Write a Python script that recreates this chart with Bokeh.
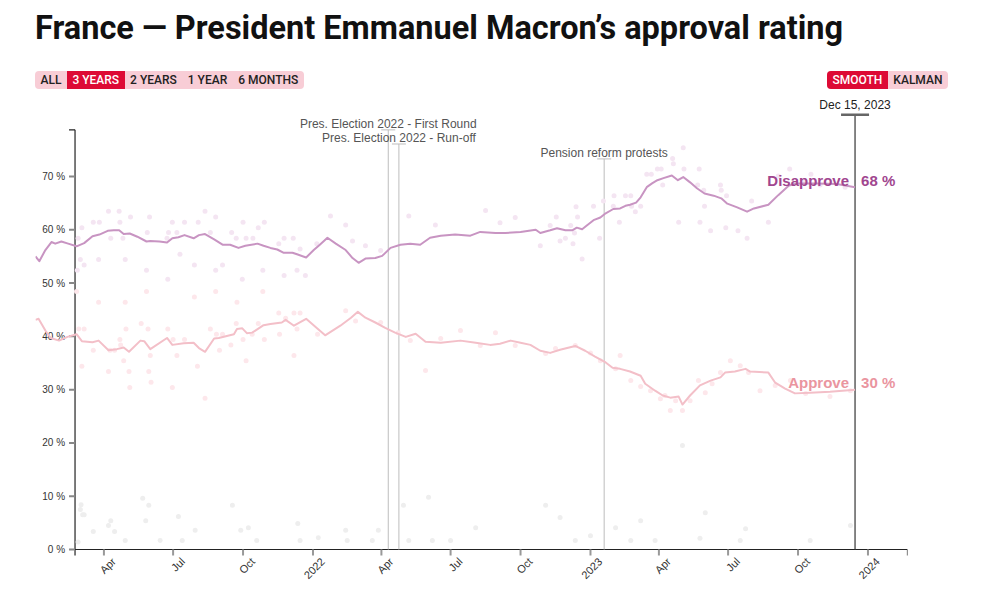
import math
import pandas as pd
from bokeh.plotting import figure
from bokeh.models import Range1d, FixedTicker, Div
from bokeh.layouts import column
from bokeh.embed import file_html
from bokeh.resources import INLINE
from bokeh.core.properties import value

# ------------------------------------------------------------------ data
TITLE = "France \u2014 President Emmanuel Macron\u2019s approval rating"
START = "2021-01-01"          # day 0 for the day offsets below

# smoothed series: (days since START, %)
disapprove_line = [
    (0, 55.0), (5, 54.1), (13, 56.2), (21, 57.7), (26, 57.4), (34, 57.8), (43, 57.4), (54, 56.9),
    (64, 57.5), (75, 58.8), (84, 59.1), (95, 59.8), (103, 59.9), (110, 59.9), (116, 59.2), (124, 59.3),
    (134, 58.7), (146, 57.8), (151, 57.9), (163, 57.8), (173, 57.6), (180, 58.4), (188, 58.6), (196, 59.0),
    (208, 58.4), (215, 59.0), (223, 59.2), (235, 58.2), (246, 57.2), (256, 57.2), (267, 56.6), (276, 57.0),
    (292, 57.4), (300, 57.0), (309, 56.6), (318, 56.3), (326, 55.7), (338, 55.7), (344, 55.4), (356, 54.8),
    (366, 56.2), (374, 57.2), (384, 58.5), (395, 57.4), (408, 56.2), (417, 54.7), (425, 53.8), (434, 54.6),
    (447, 54.7), (456, 55.1), (467, 56.6), (480, 57.2), (493, 57.4), (506, 57.2), (519, 58.5), (533, 58.9),
    (552, 59.1), (572, 58.9), (585, 59.6), (605, 59.4), (618, 59.4), (638, 59.6), (658, 60.0), (664, 59.4),
    (677, 59.9), (686, 60.3), (697, 59.9), (706, 59.9), (712, 60.4), (719, 60.1), (726, 60.9), (734, 61.8),
    (743, 62.3), (750, 63.1), (760, 63.9), (769, 64.0), (776, 64.5), (782, 64.7), (790, 65.1), (796, 66.1),
    (804, 68.0), (811, 68.7), (818, 69.3), (826, 69.7), (837, 70.2), (845, 69.3), (852, 69.9), (861, 68.9),
    (870, 67.8), (880, 66.8), (892, 66.4), (902, 65.9), (910, 64.9), (923, 64.2), (936, 63.4), (945, 64.0),
    (964, 64.7), (977, 66.5), (991, 68.3), (1002, 68.7), (1028, 68.7), (1054, 68.6), (1078, 68.0),
]
approve_line = [
    (0, 43.1), (4, 43.3), (13, 41.1), (20, 39.7), (31, 39.2), (42, 39.9), (54, 40.4), (61, 39.1),
    (75, 38.9), (83, 39.2), (96, 37.4), (107, 37.6), (116, 37.9), (123, 37.1), (138, 39.2), (143, 39.1),
    (151, 37.6), (173, 39.7), (180, 38.4), (195, 38.7), (208, 38.8), (215, 37.8), (223, 37.1), (235, 39.6),
    (241, 39.7), (261, 40.4), (265, 41.4), (272, 41.5), (278, 40.6), (285, 40.7), (300, 42.1), (309, 42.3),
    (324, 42.6), (329, 43.1), (340, 42.0), (356, 43.3), (373, 41.2), (381, 40.2), (401, 42.0), (415, 43.5),
    (424, 44.6), (434, 43.5), (447, 42.6), (460, 41.6), (473, 40.7), (487, 39.9), (500, 40.5), (513, 39.0),
    (533, 38.8), (559, 39.2), (579, 38.8), (598, 38.4), (611, 38.6), (625, 39.2), (638, 38.8), (651, 38.4),
    (664, 37.3), (677, 36.9), (690, 37.5), (710, 38.2), (723, 37.3), (736, 36.2), (750, 35.1), (759, 34.1),
    (769, 33.9), (782, 33.4), (796, 32.6), (802, 31.1), (815, 29.8), (825, 28.9), (835, 28.5), (846, 28.7),
    (851, 27.2), (861, 28.9), (874, 30.8), (888, 31.7), (901, 32.3), (907, 33.2), (920, 33.4), (934, 33.9),
    (940, 33.4), (964, 33.2), (973, 31.3), (986, 30.2), (999, 29.3), (1019, 29.4), (1045, 29.6), (1078, 30.0),
]

# individual polls: (days since START, %)
disapprove_polls = [
    (96, 63.5), (110, 63.5), (223, 63.5), (76, 61.4), (84, 61.4), (111, 61.4), (125, 62.4), (180, 61.4),
    (196, 61.4), (214, 61.4), (273, 61.4), (301, 61.4), (61, 60.4), (150, 62.4), (237, 62.4), (293, 60.4),
    (147, 59.5), (175, 59.5), (186, 59.5), (230, 59.5), (258, 59.5), (56, 58.4), (99, 58.4), (115, 58.4),
    (173, 58.4), (264, 58.4), (277, 58.4), (286, 58.4), (327, 58.4), (339, 58.4), (320, 57.4), (348, 56.4),
    (370, 57.4), (59, 54.4), (83, 54.4), (118, 54.4), (190, 55.4), (64, 53.4), (209, 53.4), (246, 53.4),
    (55, 52.4), (146, 52.4), (237, 52.4), (299, 52.4), (344, 52.4), (327, 51.4), (355, 51.4), (174, 50.7),
    (272, 50.7), (388, 62.6), (408, 60.9), (417, 57.9), (434, 57.0), (454, 56.1), (491, 62.6), (526, 60.9),
    (592, 63.6), (611, 61.3), (631, 62.3), (664, 57.0), (677, 60.8), (690, 57.9), (704, 60.8), (685, 62.4),
    (697, 58.4), (707, 57.4), (711, 64.3), (713, 62.4), (709, 59.4), (719, 54.5), (734, 64.4), (742, 58.4),
    (747, 65.4), (761, 66.4), (760, 64.4), (768, 61.4), (776, 66.4), (783, 66.4), (784, 64.4), (789, 63.4),
    (796, 64.4), (804, 70.4), (810, 70.4), (818, 71.4), (823, 71.4), (825, 68.4), (838, 73.4), (839, 72.4),
    (852, 75.4), (853, 71.4), (846, 61.4), (873, 71.4), (871, 68.4), (879, 67.4), (880, 64.4), (874, 61.4),
    (901, 68.4), (902, 67.4), (909, 66.4), (908, 60.4), (936, 58.4), (942, 65.4), (964, 61.4), (992, 71.4),
    (1020, 70.4), (1009, 69.0), (1032, 68.4), (1065, 68.0), (977, 70.1), (924, 59.8), (888, 59.8),
]
approve_polls = [
    (54, 48.4), (146, 48.4), (209, 47.4), (237, 48.4), (299, 48.4), (83, 46.4), (118, 46.4), (265, 46.4),
    (320, 44.4), (340, 44.4), (348, 44.4), (139, 42.4), (329, 43.4), (57, 41.4), (64, 41.4), (119, 41.4),
    (148, 41.4), (174, 41.4), (230, 41.4), (264, 42.4), (293, 42.4), (344, 41.4), (238, 40.4), (246, 40.4),
    (285, 40.4), (321, 40.4), (371, 40.4), (111, 39.4), (181, 39.4), (196, 39.4), (273, 39.4), (301, 39.4),
    (76, 37.4), (98, 37.4), (104, 37.4), (112, 38.4), (257, 38.4), (151, 36.4), (186, 36.4), (242, 37.4),
    (116, 35.4), (277, 35.4), (61, 34.4), (213, 34.4), (96, 33.4), (123, 33.4), (149, 33.4), (340, 36.4),
    (152, 31.4), (124, 30.4), (180, 30.4), (223, 28.4), (408, 44.8), (421, 42.9), (454, 42.6), (477, 40.7),
    (493, 39.2), (513, 33.6), (533, 39.6), (559, 41.1), (585, 38.3), (605, 40.7), (631, 38.3), (671, 36.8),
    (684, 37.7), (710, 38.3), (730, 36.9), (743, 35.4), (763, 33.9), (769, 36.4), (783, 31.7), (796, 30.6),
    (809, 29.8), (822, 28.3), (828, 28.9), (835, 26.1), (842, 27.9), (851, 26.1), (861, 27.9), (872, 31.7),
    (881, 29.4), (890, 31.1), (901, 33.2), (914, 35.4), (927, 34.5), (938, 33.2), (953, 29.8), (973, 30.8),
    (993, 31.7), (1013, 29.3), (1045, 28.7), (1072, 29.8),
]
other_polls = [
    (60, 8.4), (59, 7.5), (62, 6.5), (64, 6.5), (99, 5.4), (96, 4.5), (104, 3.4), (76, 3.4),
    (56, 1.4), (118, 1.7), (141, 9.6), (149, 8.3), (145, 5.4), (164, 1.7), (188, 6.2), (193, 1.7),
    (210, 3.6), (259, 8.3), (270, 3.6), (280, 4.1), (291, 1.7), (345, 4.9), (348, 1.7), (372, 2.2),
    (408, 3.6), (410, 1.7), (443, 1.7), (451, 3.6), (484, 8.3), (491, 1.7), (517, 9.8), (522, 1.7),
    (546, 1.7), (579, 4.1), (671, 8.3), (690, 6.0), (710, 1.7), (730, 2.6), (763, 4.1), (783, 1.7),
    (796, 5.4), (815, 1.7), (851, 19.5), (874, 2.1), (881, 6.9), (927, 1.7), (934, 3.9), (1019, 1.7),
    (1072, 4.5),
]

x_tick_dates = ["2021-04-01", "2021-07-01", "2021-10-01", "2022-01-01", "2022-04-01", "2022-07-01",
                "2022-10-01", "2023-01-01", "2023-04-01", "2023-07-01", "2023-10-01", "2024-01-01"]
x_tick_labels = ["Apr", "Jul", "Oct", "2022", "Apr", "Jul", "Oct", "2023", "Apr", "Jul", "Oct", "2024"]
y_ticks = [0, 10, 20, 30, 40, 50, 60, 70]
y_tick_labels = ["0 %", "10 %", "20 %", "30 %", "40 %", "50 %", "60 %", "70 %"]
Y_AXIS_MAX = 78.75

window = ("2021-02-22", "2024-02-22")      # 3-year window shown by the axis
event_dates = ["2022-04-10", "2022-04-24", "2023-01-19"]
event_labels = ["Pres. Election 2022 - First Round", "Pres. Election 2022 - Run-off",
                "Pension reform protests"]
today = "2023-12-15"
today_label = "Dec 15, 2023"

range_buttons = ["ALL", "3 YEARS", "2 YEARS", "1 YEAR", "6 MONTHS"]
method_buttons = ["SMOOTH", "KALMAN"]

# ------------------------------------------------------------------ helpers
def day_ms(d):
    return (pd.Timestamp(START) + pd.Timedelta(days=d)).value / 1e6

def date_ms(s):
    return pd.Timestamp(s).value / 1e6

def split(pairs):
    return [day_ms(d) for d, _ in pairs], [v for _, v in pairs]

FONT = "Liberation Sans"
DIS_LINE, APP_LINE = "#c894c2", "#f3bfc8"
DIS_DOT, APP_DOT, OTHER_DOT = "#f4e5f2", "#fde7eb", "#eeeeee"
DIS_TXT, APP_TXT = "#a1468f", "#ea959f"
RED, PINK = "#dd0a35", "#f8cdd6"

# ------------------------------------------------------------------ header
def buttons(labels, active):
    out = []
    for lab in labels:
        on = lab == active
        out.append(
            f'<span style="padding:0 5.5px;line-height:18px;font-size:12px;font-weight:500;'
            f'color:{"#fff" if on else "#222"};background:{RED if on else "transparent"};">{lab}</span>')
    return "".join(out)

header_html = f'''
<div style="position:relative;width:996px;height:95px;font-family:Roboto,sans-serif;">
  <div style="position:absolute;left:35px;top:6px;font-size:32.5px;font-weight:700;color:#111;
              line-height:44px;white-space:nowrap;">{TITLE}</div>
  <div style="position:absolute;left:35px;top:71px;height:18px;display:flex;background:{PINK};
              border-radius:4px;overflow:hidden;">{buttons(range_buttons, "3 YEARS")}</div>
  <div style="position:absolute;left:827px;top:71px;height:18px;display:flex;background:{PINK};
              border-radius:4px;overflow:hidden;">{buttons(method_buttons, "SMOOTH")}</div>
</div>
'''
header = Div(text=header_html, width=996, height=95, margin=(0, 0, 0, 0))

# ------------------------------------------------------------------ figure
x0_ms, x1_ms = day_ms(0), date_ms(window[1])
p = figure(width=996, height=515, x_axis_type="datetime", y_axis_location=None,
           x_range=Range1d(x0_ms, x1_ms), y_range=Range1d(-1.5, 85.2),
           output_backend="svg", toolbar_location=None,
           min_border_left=35, min_border_right=89, min_border_top=0, min_border_bottom=53)
p.grid.visible = False
p.outline_line_color = None
p.background_fill_color = "white"
p.border_fill_color = "white"

ax0, ax1 = date_ms(window[0]), date_ms(window[1])
tick_ms = [date_ms(d) for d in x_tick_dates]

# label range nudged so rotated labels sit to the right of their ticks (as in d3)
LABEL_NUDGE_MS = 13 * 86400000
p.extra_x_ranges = {"labels": Range1d(x0_ms - LABEL_NUDGE_MS, x1_ms - LABEL_NUDGE_MS)}

# bottom axis: only the labels come from Bokeh's axis, line/ticks drawn at 0 %
xa = p.xaxis[0]
xa.x_range_name = "labels"
xa.ticker = FixedTicker(ticks=tick_ms)
xa.major_label_overrides = {t: lab for t, lab in zip(tick_ms, x_tick_labels)}
xa.axis_line_color = None
xa.major_tick_line_color = None
xa.minor_tick_line_color = None
xa.major_tick_out = 0
xa.major_tick_in = 0
xa.major_label_orientation = math.pi / 4
xa.major_label_text_font = FONT
xa.major_label_text_font_size = "11px"
xa.major_label_text_color = "#333"
xa.major_label_standoff = 2

p.segment(x0=[ax0], y0=[0], x1=[ax1], y1=[0], line_color="#222", line_width=1.2)
p.ray(x=tick_ms, y=[0] * len(tick_ms), length=6, length_units="screen", angle=-math.pi / 2,
      line_color="#999", line_width=2)
p.ray(x=[ax0, ax1], y=[0, 0], length=6, length_units="screen", angle=-math.pi / 2,
      line_color="#222", line_width=1.2)

# y axis drawn at the window start
p.segment(x0=[ax0], y0=[0], x1=[ax0], y1=[Y_AXIS_MAX], line_color="#222", line_width=1.2)
p.ray(x=[ax0] * len(y_ticks), y=y_ticks, length=6, length_units="screen", angle=math.pi,
      line_color="#888", line_width=2)
p.ray(x=[ax0], y=[Y_AXIS_MAX], length=6, length_units="screen", angle=math.pi,
      line_color="#222", line_width=1.2)
p.text(x=[ax0] * len(y_ticks), y=y_ticks, text=y_tick_labels, x_offset=-10,
       text_align="right", text_baseline="middle", text_font=value(FONT),
       text_font_size="10px", text_color="#333")

# event markers
event_tops = [Y_AXIS_MAX, 76.1, 73.3]
ev_x = [date_ms(d) for d in event_dates]
p.segment(x0=ev_x, y0=[0] * 3, x1=ev_x, y1=event_tops, line_color="#bdbdbd", line_width=1)
p.scatter(x=ev_x, y=event_tops, marker="dash", size=14, line_color="#bdbdbd", line_width=1)
p.text(x=ev_x, y=event_tops, text=event_labels, y_offset=-6, text_align="center",
       text_baseline="middle", text_font=value(FONT), text_font_size="12px", text_color="#555")

# polls
for pairs, col in ((other_polls, OTHER_DOT), (disapprove_polls, DIS_DOT), (approve_polls, APP_DOT)):
    xs, ys = split(pairs)
    p.scatter(x=xs, y=ys, size=5, fill_color=col, line_color=None)

# today marker
t_ms = date_ms(today)
TODAY_TOP = 81.6
p.segment(x0=[t_ms], y0=[0], x1=[t_ms], y1=[TODAY_TOP], line_color="#444", line_width=1.3)
p.scatter(x=[t_ms], y=[TODAY_TOP], marker="dash", size=28, line_color="#666", line_width=2.5)
p.text(x=[t_ms], y=[TODAY_TOP], text=[today_label], y_offset=-10, text_align="center",
       text_baseline="middle", text_font=value(FONT), text_font_size="12px", text_color="#222")

# smoothed lines
for pairs, col in ((disapprove_line, DIS_LINE), (approve_line, APP_LINE)):
    xs, ys = split(pairs)
    p.line(x=xs, y=ys, line_color=col, line_width=2, line_join="round")

# end labels
for pairs, name, col in ((disapprove_line, "Disapprove", DIS_TXT), (approve_line, "Approve", APP_TXT)):
    last = pairs[-1][1]
    p.text(x=[t_ms], y=[last], text=[name], x_offset=-6, y_offset=-7, text_align="right",
           text_baseline="middle", text_font=value(FONT), text_font_size="15px",
           text_font_style="bold", text_color=col)
    p.text(x=[t_ms], y=[last], text=[f"{round(last)} %"], x_offset=6, y_offset=-7,
           text_align="left", text_baseline="middle", text_font=value(FONT),
           text_font_size="15px", text_font_style="bold", text_color=col)

layout = column(header, p, spacing=0)
open("out.html", "w").write(file_html(layout, INLINE))
